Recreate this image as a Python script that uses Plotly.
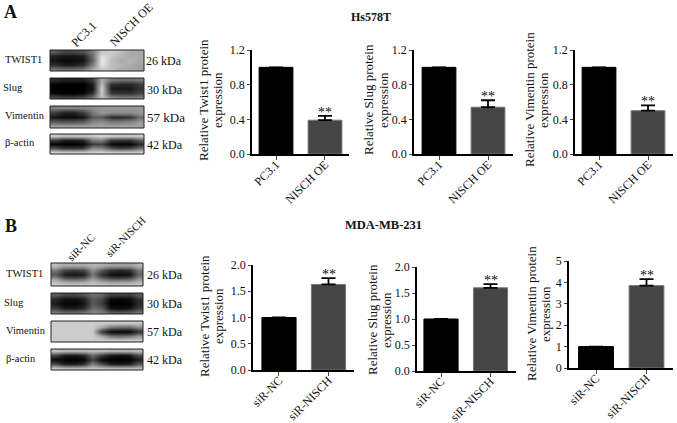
import plotly.graph_objects as go

W, H = 677, 423
FONT = "Liberation Serif"

# ---- bar data ----
groups_a = ["PC3.1", "NISCH OE"]
groups_b = ["siR-NC", "siR-NISCH"]
twist_a = [1.0, 0.39]
twist_a_err = [0, 0.05]
slug_a = [1.0, 0.54]
slug_a_err = [0, 0.08]
vim_a = [1.0, 0.50]
vim_a_err = [0, 0.06]
twist_b = [1.0, 1.63]
twist_b_err = [0, 0.12]
slug_b = [1.0, 1.60]
slug_b_err = [0, 0.07]
vim_b = [1.0, 3.85]
vim_b_err = [0, 0.30]
ticks_a = [0.0, 0.4, 0.8, 1.2]
ticks_b12 = [0.0, 0.5, 1.0, 1.5, 2.0]
ticks_b3 = [0, 1, 2, 3, 4, 5]

# ---- blot band intensities (0 = black, 255 = white), top row first ----
a_twist = [[90,70,70,80,120,200,205,190,170,170],[30,20,20,30,110,225,200,180,170,170],
           [20,10,10,20,100,235,190,170,180,165],[50,30,30,50,130,225,190,180,170,160],
           [120,110,110,120,170,200,190,170,170,160]]
a_slug = [[40,30,30,30,60,170,120,110,110,120],[5,0,0,0,30,190,50,40,40,60],
          [0,0,0,0,20,210,30,25,25,50],[10,0,0,5,50,200,60,50,50,70],
          [70,60,60,70,110,190,130,120,120,120]]
a_vim = [[130,130,130,130,140,150,150,150,150,150],[60,30,30,60,120,150,140,140,140,150],
         [20,10,10,20,90,90,40,40,50,110],[90,80,80,90,130,140,120,120,130,150],
         [160,160,160,160,165,165,165,165,165,165]]
a_actin = [[200,190,190,190,200,210,200,195,195,200],[60,30,30,40,120,130,60,50,50,90],
           [5,0,0,5,60,70,10,5,5,40],[80,50,50,60,140,130,80,60,70,110],
           [210,200,200,200,210,210,205,200,200,205]]
b_twist = [[190,170,170,170,180,175,160,160,160,180],[120,70,60,70,140,90,50,40,50,120],
           [90,30,20,30,120,50,15,10,20,100],[160,110,100,110,160,120,90,90,100,150],
           [200,190,190,190,195,190,185,185,185,195]]
b_slug = [[90,70,70,80,110,100,60,60,60,90],[40,15,15,30,90,70,10,5,10,50],
          [25,5,5,20,90,60,0,0,5,40],[60,25,25,40,110,90,15,10,20,60],
          [120,100,100,110,135,130,90,80,90,110]]
b_vim = [[205,205,205,205,205,205,200,200,200,200],[205,205,205,205,205,170,120,110,110,140],
         [205,205,205,205,200,60,10,5,5,50],[205,205,205,205,205,170,120,110,120,150],
         [205,205,205,205,205,205,200,200,200,200]]
b_actin = [[190,180,180,180,185,185,175,175,175,185],[70,30,25,40,110,60,25,20,25,80],
           [10,0,0,5,70,10,0,0,0,30],[80,35,30,50,130,80,35,30,35,90],
           [195,185,185,185,195,190,185,185,185,190]]

row_labels = ["TWIST1", "Slug", "Vimentin", "β-actin"]
kda_labels = ["26 kDa", "30 kDa", "57 kDa", "42 kDa"]

fig = go.Figure()
layout = dict(width=W, height=H, margin=dict(l=0, r=0, t=0, b=0), showlegend=False,
              paper_bgcolor="white", plot_bgcolor="white", font=dict(family=FONT, color="#111"))
annots, shapes = [], []


def px(x):
    return x / W


def py(y):
    return 1 - y / H


def label(x, y, text, size=12, angle=0, bold=False, xanchor="center", yanchor="middle"):
    annots.append(dict(xref="paper", yref="paper", x=px(x), y=py(y), text=f"<b>{text}</b>" if bold else text,
                       showarrow=False, font=dict(size=size, family=FONT, color="#111"), textangle=angle,
                       xanchor=xanchor, yanchor=yanchor, align="center"))


n = [1]


def next_axes():
    i = n[0]
    n[0] += 1
    return ("x%d" % i, "y%d" % i, "xaxis%d" % i, "yaxis%d" % i)


def blot(z, x0, x1, y0, y1):
    xa, ya, xk, yk = next_axes()
    fig.add_trace(go.Heatmap(z=z, xaxis=xa, yaxis=ya, zmin=0, zmax=255, zsmooth="best", showscale=False,
                             hoverinfo="skip", colorscale=[[0, "#000"], [1, "#fff"]]))
    layout[xk] = dict(domain=[px(x0), px(x1)], visible=False, anchor=ya)
    layout[yk] = dict(domain=[py(y1), py(y0)], visible=False, anchor=xa, autorange="reversed")
    shapes.append(dict(type="rect", xref="paper", yref="paper", x0=px(x0), x1=px(x1), y0=py(y1), y1=py(y0),
                       line=dict(color="#222", width=1)))


def bars(cats, vals, errs, ticks, ymax, x0, x1, ytop, ybot, xrange, fmt):
    xa, ya, xk, yk = next_axes()
    fig.add_trace(go.Bar(x=cats, y=vals, xaxis=xa, yaxis=ya, width=0.69,
                         marker=dict(color=["#000000", "#454545"], line=dict(color=["#000", "#777"], width=1)),
                         error_y=dict(type="data", array=errs, symmetric=False, color="#000", thickness=1.8, width=7)))
    layout[xk] = dict(domain=[px(x0), px(x1)], anchor=ya, range=xrange, showgrid=False, showline=True,
                      linecolor="#000", linewidth=1.6, ticks="outside", ticklen=4, tickwidth=1.4, tickangle=-45,
                      tickfont=dict(size=12, family=FONT, color="#111"), zeroline=False, automargin=False,
                      ticklabelstandoff=-7)
    layout[yk] = dict(domain=[py(ybot), py(ytop)], anchor=xa, range=[0, ymax], tickvals=ticks, tickformat=fmt,
                      showgrid=False, showline=True, linecolor="#000", linewidth=1.6, ticks="outside", ticklen=3,
                      tickwidth=1.4, tickfont=dict(size=12, family=FONT, color="#111"), zeroline=False,
                      automargin=False)
    annots.append(dict(xref=xa, yref=ya, x=cats[1], y=vals[1] + errs[1], text="**", showarrow=False, yanchor="bottom",
                       yshift=-6, font=dict(size=14, family=FONT, color="#111")))


# ---- blots ----
rows_a = [(a_twist, 50, 71), (a_slug, 78, 99), (a_vim, 106, 128), (a_actin, 134, 154)]
rows_b = [(b_twist, 263, 286), (b_slug, 293, 314), (b_vim, 321, 342), (b_actin, 349, 370)]
for z, y0, y1 in rows_a:
    blot(z, 50, 144, y0, y1)
for z, y0, y1 in rows_b:
    blot(z, 51, 143, y0, y1)

for (_, y0, y1), name, kda, lx, kx, ks in zip(rows_a, row_labels, kda_labels, [3, 1, 3, 3], [144, 145, 145, 145],
                                             [12, 12, 13, 12]):
    label(lx, (y0 + y1) / 2 - 1, name, size=10.5, xanchor="left")
    label(kx, (y0 + y1) / 2 + 1, kda, size=ks, xanchor="left")
for (_, y0, y1), name, kda, lx in zip(rows_b, row_labels, kda_labels, [4, 2, 4, 4]):
    label(lx, (y0 + y1) / 2 - 1, name, size=10.5, xanchor="left")
    label(145, (y0 + y1) / 2, kda, size=12, xanchor="left")

label(84, 34, groups_a[0], size=12, angle=-45)
label(131, 25, groups_a[1], size=12, angle=-45)
label(81, 247, groups_b[0], size=11, angle=-45)
label(125, 237, groups_b[1], size=11, angle=-45)

# ---- headings ----
label(11, 12, "A", size=18, bold=True)
label(11, 226, "B", size=18, bold=True)
label(371, 17, "Hs578T", size=12, bold=True)
label(383, 225, "MDA-MB-231", size=12.5, bold=True)

# ---- bar panels ----
bars(groups_a, twist_a, twist_a_err, ticks_a, 1.2, 252, 349, 50, 154, [-0.49, 1.49], ".1f")
bars(groups_a, slug_a, slug_a_err, ticks_a, 1.2, 414, 513, 50, 154, [-0.51, 1.51], ".1f")
bars(groups_a, vim_a, vim_a_err, ticks_a, 1.2, 575, 673, 50, 154, [-0.49, 1.51], ".1f")
bars(groups_b, twist_b, twist_b_err, ticks_b12, 2.0, 253, 354, 265, 370, [-0.525, 1.515], ".1f")
bars(groups_b, slug_b, slug_b_err, ticks_b12, 2.0, 417, 516, 267, 371, [-0.485, 1.515], ".1f")
bars(groups_b, vim_b, vim_b_err, ticks_b3, 5, 569, 673, 261, 368, [-0.535, 1.525], "d")

for x1, x2, y, name in [(203, 217, 100, "Twist1"), (368, 383, 100, "Slug"), (529, 543, 100, "Vimentin"),
                        (204, 218, 316, "Twist1"), (372, 386, 320, "Slug"), (531, 545, 314, "Vimentin")]:
    label(x1, y, f"Relative {name} protein", size=13, angle=-90)
    label(x2, y, "expression", size=13, angle=-90)

layout["annotations"] = annots
layout["shapes"] = shapes
fig.update_layout(**layout)
fig.write_html("out.html", post_script="document.body.style.margin='0';", config={"displayModeBar": False})
